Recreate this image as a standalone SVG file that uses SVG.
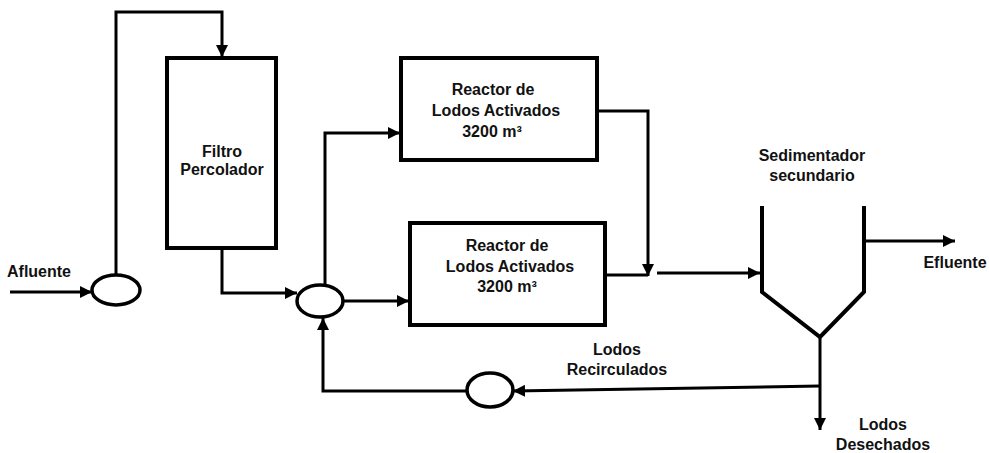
<svg xmlns="http://www.w3.org/2000/svg" width="989" height="453" viewBox="0 0 989 453">
<style>
text{font-family:"Liberation Sans",Arial,sans-serif;font-weight:bold;font-size:16px;fill:#111;text-anchor:middle}
.box{fill:#fff;stroke:#000;stroke-width:4}
.ell{fill:#fff;stroke:#000;stroke-width:3.5}
.ln{fill:none;stroke:#000;stroke-width:3}
.wall{fill:none;stroke:#000;stroke-width:4}
</style>
<defs>
<marker id="ah" viewBox="0 0 10 10" refX="10" refY="5" markerWidth="4" markerHeight="4" markerUnits="strokeWidth" orient="auto">
<path d="M0,0 L10,5 L0,10 z" fill="#000"/>
</marker>
<linearGradient id="wg" x1="0" x2="1" y1="0" y2="0">
<stop offset="0" stop-color="#3a5da8"/>
<stop offset="0.5" stop-color="#a9bde0"/>
<stop offset="1" stop-color="#3a5da8"/>
</linearGradient>
</defs>
<g id="connectors">
<path class="ln" d="M10,292 L92,292" marker-end="url(#ah)"/>
<path class="ln" d="M116,275 L116,12 L222,12 L222,57" marker-end="url(#ah)"/>
<path class="ln" d="M222,248 L222,293 L297,293" marker-end="url(#ah)"/>
<path class="ln" d="M325,285 L325,133 L400,133" marker-end="url(#ah)"/>
<path class="ln" d="M343,301 L409,301" marker-end="url(#ah)"/>
<path class="ln" d="M597,111 L648,111 L648,276" marker-end="url(#ah)"/>
<path class="ln" d="M605,275 L648,275"/>
<path class="ln" d="M657,273 L760,273" marker-end="url(#ah)"/>
<path class="ln" d="M864,241 L955,241" marker-end="url(#ah)"/>
<path class="ln" d="M820,337 L820,430" marker-end="url(#ah)"/>
<path class="ln" d="M820,386 L513,391" marker-end="url(#ah)"/>
<path class="ln" d="M467,391 L323,391 L323,318" marker-end="url(#ah)"/>
</g>
<g id="afluente"><text x="39" y="277">Afluente</text></g>
<g id="bomba1"><ellipse class="ell" cx="116" cy="290" rx="24" ry="15"/></g>
<g id="filtro">
<rect class="box" x="167" y="58" width="109" height="190"/>
<text x="222" y="157">Filtro</text>
<text x="222" y="175">Percolador</text>
</g>
<g id="mezcla"><ellipse class="ell" cx="320" cy="301" rx="23" ry="16"/></g>
<g id="reactor1">
<rect class="box" x="401" y="58" width="196" height="102"/>
<text x="493" y="95">Reactor de</text>
<text x="496" y="116">Lodos Activados</text>
<text x="492" y="137">3200 m³</text>
</g>
<g id="reactor2">
<rect class="box" x="410" y="223" width="195" height="102"/>
<text x="507" y="251">Reactor de</text>
<text x="510" y="272">Lodos Activados</text>
<text x="507" y="292">3200 m³</text>
</g>
<g id="sedimentador">
<text x="812" y="161">Sedimentador</text>
<text x="812" y="181">secundario</text>
<path class="wall" d="M762,206 L762,292 L820,337 L864,292 L864,206"/>
<line x1="762" y1="245" x2="864" y2="245" stroke="url(#wg)" stroke-width="3"/>
</g>
<g id="efluente"><text x="955" y="268">Efluente</text></g>
<g id="bomba2"><ellipse class="ell" cx="490" cy="390" rx="23" ry="17"/></g>
<g id="recirculados">
<text x="617" y="355">Lodos</text>
<text x="617" y="375">Recirculados</text>
</g>
<g id="desechados">
<text x="883" y="430">Lodos</text>
<text x="883" y="450">Desechados</text>
</g>
</svg>
